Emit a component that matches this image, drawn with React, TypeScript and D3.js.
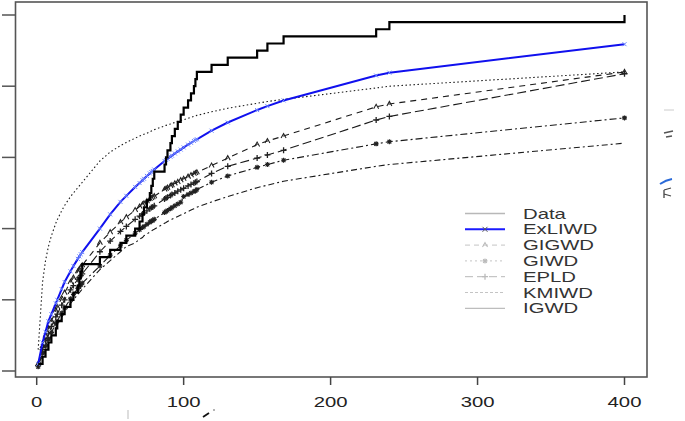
import React from "react";
import * as d3 from "d3";

// sample (sorted observations)
const obs = [1,4,6,8,10,13,14,17,19,23,25,28,29,30,31,43,50,57,61,67,70,72,73,75,77,78,79,80,87,88,89,91,92,94,96,98,100,103,105,107,108,109,119,130,150,157,168,231,240,400];

// fitted CDFs evaluated at obs
const exliwd = [0.02,0.08,0.11,0.14,0.16,0.19,0.20,0.23,0.25,0.28,0.295,0.315,0.322,0.328,0.334,0.40,0.44,0.475,0.492,0.517,0.528,0.536,0.54,0.548,0.555,0.559,0.562,0.566,0.59,0.593,0.596,0.602,0.605,0.611,0.617,0.622,0.628,0.636,0.641,0.646,0.649,0.651,0.675,0.698,0.733,0.744,0.76,0.83,0.838,0.918];
const kmiwd = [0.06,0.25,0.31,0.35,0.38,0.415,0.425,0.45,0.465,0.49,0.50,0.515,0.52,0.525,0.53,0.59,0.615,0.633,0.642,0.654,0.66,0.663,0.665,0.668,0.672,0.674,0.676,0.678,0.688,0.69,0.691,0.694,0.696,0.698,0.701,0.704,0.706,0.71,0.713,0.715,0.716,0.718,0.728,0.738,0.752,0.757,0.763,0.795,0.80,0.84];
const gigwd = [0.02,0.07,0.10,0.12,0.14,0.17,0.18,0.205,0.22,0.25,0.262,0.28,0.286,0.292,0.297,0.36,0.39,0.418,0.432,0.452,0.462,0.468,0.471,0.477,0.483,0.486,0.488,0.491,0.51,0.512,0.515,0.52,0.522,0.527,0.531,0.536,0.54,0.546,0.55,0.554,0.556,0.558,0.577,0.598,0.636,0.646,0.66,0.742,0.75,0.84];
const epld = [0.015,0.06,0.085,0.105,0.125,0.152,0.16,0.185,0.20,0.228,0.24,0.258,0.263,0.268,0.273,0.335,0.365,0.392,0.406,0.426,0.435,0.441,0.444,0.45,0.456,0.459,0.461,0.464,0.483,0.486,0.488,0.493,0.496,0.50,0.505,0.509,0.513,0.52,0.524,0.528,0.53,0.532,0.555,0.575,0.598,0.607,0.62,0.705,0.715,0.835];
const giwd = [0.012,0.05,0.07,0.09,0.108,0.133,0.14,0.163,0.177,0.203,0.215,0.232,0.237,0.242,0.247,0.295,0.325,0.352,0.367,0.387,0.397,0.403,0.406,0.412,0.418,0.421,0.423,0.426,0.445,0.448,0.451,0.456,0.459,0.464,0.469,0.474,0.49,0.496,0.5,0.504,0.506,0.51,0.53,0.548,0.572,0.58,0.592,0.638,0.644,0.711];
const igwd = [0.01,0.04,0.06,0.08,0.10,0.12,0.13,0.15,0.165,0.19,0.20,0.215,0.22,0.225,0.23,0.285,0.31,0.335,0.35,0.36,0.37,0.375,0.38,0.385,0.39,0.393,0.396,0.398,0.415,0.417,0.42,0.424,0.426,0.43,0.434,0.438,0.442,0.448,0.452,0.456,0.458,0.46,0.475,0.49,0.515,0.522,0.533,0.575,0.58,0.64];

const xTicks = [0, 100, 200, 300, 400];
const yTicks = [0, 0.2, 0.4, 0.6, 0.8, 1.0];
const legendLabels = ["Data", "ExLIWD", "GIGWD", "GIWD", "EPLD", "KMIWD", "IGWD"];

const FONT = "'Liberation Sans', Arial, sans-serif";
const SX = 1.45;

function Marker({ type, x, y, color, s = 2.5 }: { type: string; x: number; y: number; color: string; s?: number }) {
  if (type === "x")
    return <path d={`M${x - s},${y - s}L${x + s},${y + s}M${x - s},${y + s}L${x + s},${y - s}`} stroke={color} strokeWidth={1} fill="none" />;
  if (type === "tri")
    return <path d={`M${x - s},${y + s * 0.8}L${x},${y - s}L${x + s},${y + s * 0.8}`} stroke={color} strokeWidth={1.1} fill="none" />;
  if (type === "plus")
    return <path d={`M${x - s - 0.5},${y}L${x + s + 0.5},${y}M${x},${y - s - 0.5}L${x},${y + s + 0.5}`} stroke={color} strokeWidth={1.3} fill="none" />;
  if (type === "star")
    return <path d={`M${x - s},${y}L${x + s},${y}M${x},${y - s}L${x},${y + s}M${x - s * 0.75},${y - s * 0.75}L${x + s * 0.75},${y + s * 0.75}M${x - s * 0.75},${y + s * 0.75}L${x + s * 0.75},${y - s * 0.75}`} stroke={color} strokeWidth={1.1} fill="none" />;
  return null;
}

export default function App() {
  const x = d3.scaleLinear().domain([0, 400]).range([36.7, 624.5]);
  const y = d3.scaleLinear().domain([0, 1]).range([371, 15]);
  const n = obs.length;

  const step = d3.line<[number, number]>().x(d => x(d[0])).y(d => y(d[1])).curve(d3.curveStepAfter);
  const dataPts: [number, number][] = obs.map((v, i) => [v, (i + 1) / n]);
  const line = d3.line<[number, number]>().x(d => x(d[0])).y(d => y(d[1]));

  const models = [
    { name: "IGWD", vals: igwd, dash: "6,3,2,3", marker: null, color: "#1a1a1a", w: 1.1 },
    { name: "GIWD", vals: giwd, dash: "2,3,7,3", marker: "star", color: "#1a1a1a", w: 1.1 },
    { name: "EPLD", vals: epld, dash: "9,4", marker: "plus", color: "#1a1a1a", w: 1.1 },
    { name: "GIGWD", vals: gigwd, dash: "6,5", marker: "tri", color: "#1a1a1a", w: 1.1 },
    { name: "KMIWD", vals: kmiwd, dash: "1.5,2.5", marker: null, color: "#1a1a1a", w: 1.1 },
  ];

  const legendY0 = 213.5;
  const legendDy = 15.8;
  const legendStyles = [
    { color: "#b8b8b8", dash: "", marker: null, w: 1.3 },
    { color: "#1a1aff", dash: "", marker: "x", w: 2 },
    { color: "#c4c4c4", dash: "5,4", marker: "tri", w: 1 },
    { color: "#c4c4c4", dash: "2,3", marker: "star", w: 1 },
    { color: "#b8b8b8", dash: "8,4", marker: "plus", w: 1 },
    { color: "#c4c4c4", dash: "3,2", marker: null, w: 1 },
    { color: "#bdbdbd", dash: "", marker: null, w: 1.2 },
  ];

  return (
    <svg width={685} height={421} style={{ position: "absolute", left: 0, top: 0, background: "#fff" }} fontFamily={FONT}>
      <rect x={0} y={0} width={685} height={421} fill="#fff" />
      {/* fitted curves */}
      {models.map(m => (
        <g key={m.name}>
          <path d={line(obs.map((v, i) => [v, m.vals[i]]) as [number, number][]) || ""} fill="none" stroke={m.color} strokeWidth={m.w} strokeDasharray={m.dash} />
          {m.marker && obs.map((v, i) => <Marker key={i} type={m.marker as string} x={x(v)} y={y(m.vals[i])} color="#222" />)}
        </g>
      ))}
      {/* ExLIWD */}
      <path d={line(obs.map((v, i) => [v, exliwd[i]]) as [number, number][]) || ""} fill="none" stroke="#1010ee" strokeWidth={2} />
      {obs.map((v, i) => <Marker key={"b" + i} type="x" x={x(v)} y={y(exliwd[i])} color="#6a86ff" s={2} />)}
      {/* Data ECDF */}
      <path d={step(dataPts) || ""} fill="none" stroke="#000" strokeWidth={2.2} />

      {/* box */}
      <rect x={15.5} y={2} width={631.5} height={375} fill="none" stroke="#555" strokeWidth={1.6} />
      {/* y ticks */}
      {yTicks.map(t => <line key={t} x1={2} x2={15.5} y1={y(t)} y2={y(t)} stroke="#555" strokeWidth={1.5} />)}
      {/* x ticks */}
      {xTicks.map(t => (
        <g key={t}>
          <line x1={x(t)} x2={x(t)} y1={377} y2={385} stroke="#444" strokeWidth={1.5} />
          <text transform={`translate(${x(t)},407) scale(${SX},1)`} textAnchor="middle" fontSize={14} fill="#222">{t}</text>
        </g>
      ))}

      {/* legend */}
      {legendLabels.map((lab, i) => {
        const ly = legendY0 + i * legendDy;
        const st = legendStyles[i];
        return (
          <g key={lab}>
            <line x1={465} x2={505} y1={ly} y2={ly} stroke={st.color} strokeWidth={st.w} strokeDasharray={st.dash} />
            {st.marker && <Marker type={st.marker} x={485} y={ly} color={i === 1 ? "#555" : "#bbb"} />}
            <text transform={`translate(523,${ly + 5}) scale(${SX},1)`} fontSize={14} fill="#333">{lab}</text>
          </g>
        );
      })}

      {/* fragments of neighbouring figures */}
      <line x1={664} x2={674} y1={110} y2={110} stroke="#ccc" strokeWidth={1} />
      <path d="M664,133 L673,131 M666,137 L672,136" stroke="#555" strokeWidth={1.6} />
      <path d="M660,184 Q666,180 672,179" stroke="#2a6ad8" strokeWidth={2} fill="none" />
      <path d="M664,190 L671,188 M664,194 L671,196 M664,190 L664,198" stroke="#444" strokeWidth={1.3} fill="none" />
      <line x1={128} x2={128} y1={410} y2={419} stroke="#bbb" strokeWidth={1} />
      <path d="M203,417 L209,413" stroke="#111" strokeWidth={1.8} />
      <circle cx={214} cy={410} r={0.7} fill="#333" />
    </svg>
  );
}
